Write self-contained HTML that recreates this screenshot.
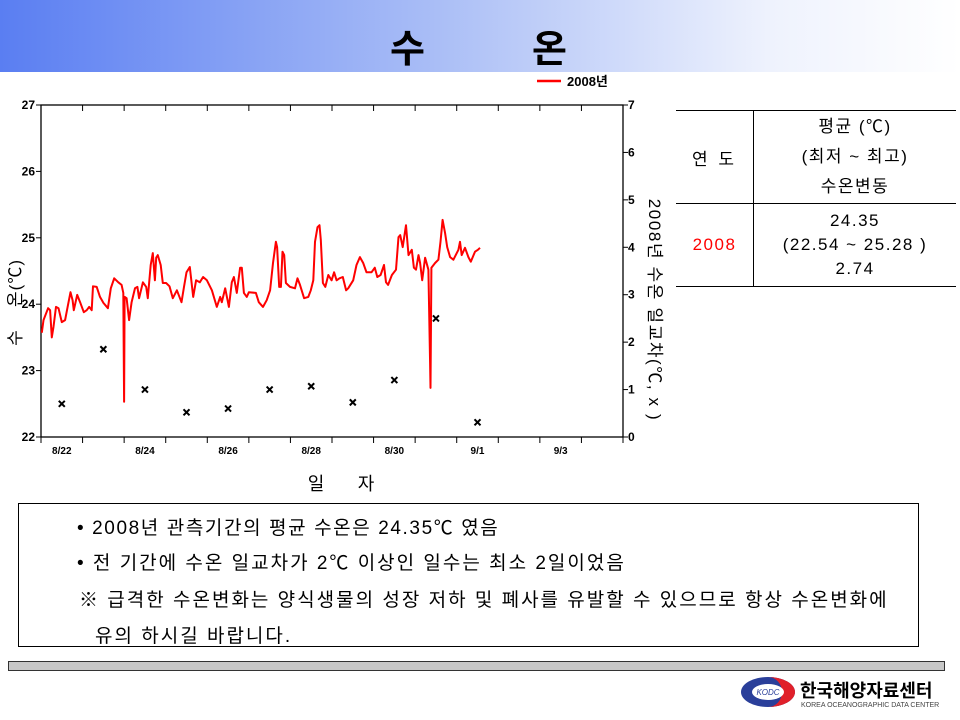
<!DOCTYPE html>
<html><head><meta charset="utf-8"><style>
body{margin:0;width:960px;height:720px;background:#fff;position:relative;overflow:hidden;font-family:"Liberation Sans","Noto Sans CJK KR",sans-serif}
.abs{position:absolute}
</style></head><body>
<div class="abs" style="left:0;top:0;width:960px;height:72px;background:linear-gradient(90deg,#5a7ef2 0%,#a9bdf6 45%,#eef2fd 80%,#fff 100%)"></div>
<div class="abs" style="left:390px;top:18px;font-size:38px;font-weight:bold">수</div>
<div class="abs" style="left:532px;top:18px;font-size:38px;font-weight:bold">온</div>

<svg class="abs" style="left:0;top:0" width="960" height="500">
<g id="chart"></g>
</svg>

<table class="abs" style="left:676px;top:110px;width:280px;border-collapse:collapse;font-size:17px;letter-spacing:1.5px;text-align:center">
<tr style="height:91px;border-top:1px solid #000;border-bottom:1px solid #000"><td style="width:75px;border-right:1px solid #000;letter-spacing:3px">연 도</td><td style="line-height:30px">평균 (℃)<br>(최저 ~ 최고)<br>수온변동</td></tr>
<tr style="height:83px;border-bottom:1px solid #000"><td style="border-right:1px solid #000;color:#f00">2008</td><td style="line-height:24px">24.35<br>(22.54 ~ 25.28 )<br>2.74</td></tr>
</table>

<div class="abs" style="left:18px;top:503px;width:899px;height:142px;border:1px solid #000;font-size:19px;letter-spacing:2px;white-space:nowrap">
<div class="abs" style="left:58px;top:9px;letter-spacing:1.6px">• 2008년 관측기간의 평균 수온은 24.35℃ 였음</div>
<div class="abs" style="left:58px;top:44px">• 전 기간에 수온 일교차가 2℃ 이상인 일수는 최소 2일이었음</div>
<div class="abs" style="left:60px;top:81px">※ 급격한 수온변화는 양식생물의 성장 저하 및 폐사를 유발할 수 있으므로 항상 수온변화에</div>
<div class="abs" style="left:76px;top:117px">유의 하시길 바랍니다.</div>
</div>

<div class="abs" style="left:8px;top:661px;width:935px;height:8px;background:#c8c8c8;border:1px solid #333"></div>
<svg class="abs" style="left:738px;top:674px" width="60" height="40">
<ellipse cx="30" cy="18" rx="27" ry="15" fill="#2a3f9a"/>
<path d="M30 3 A27 15 0 0 1 30 33 A14 15 0 0 0 30 3Z" fill="#e0202a"/>
<ellipse cx="30" cy="18" rx="16" ry="8" fill="#fff"/>
<text x="30" y="21" font-size="8" font-style="italic" text-anchor="middle" fill="#2a3f9a" font-family="Liberation Sans">KODC</text>
</svg>
<div class="abs" style="left:800px;top:677px;font-size:18px;font-weight:bold">한국해양자료센터</div>
<div class="abs" style="left:801px;top:702px;font-size:7px;color:#444">KOREA OCEANOGRAPHIC DATA CENTER</div>

<script>
const days=[0.02,0.06,0.17,0.22,0.26,0.30,0.36,0.42,0.50,0.58,0.65,0.71,0.76,0.79,0.87,0.94,1.03,1.10,1.16,1.22,1.25,1.34,1.42,1.50,1.61,1.68,1.76,1.86,1.94,1.98,2.00,2.01,2.06,2.12,2.18,2.26,2.32,2.36,2.45,2.53,2.57,2.64,2.69,2.74,2.77,2.81,2.88,2.93,3.01,3.09,3.17,3.27,3.38,3.44,3.50,3.58,3.66,3.73,3.82,3.90,3.99,4.11,4.23,4.31,4.35,4.43,4.52,4.59,4.64,4.71,4.79,4.83,4.88,4.95,5.00,5.17,5.24,5.34,5.43,5.51,5.58,5.65,5.68,5.73,5.77,5.81,5.85,5.89,5.99,6.11,6.17,6.23,6.33,6.43,6.49,6.55,6.59,6.65,6.70,6.73,6.78,6.84,6.91,6.99,7.05,7.11,7.18,7.26,7.34,7.39,7.51,7.59,7.67,7.75,7.83,7.95,8.03,8.09,8.17,8.25,8.30,8.35,8.44,8.54,8.60,8.64,8.70,8.78,8.84,8.92,8.97,9.02,9.08,9.12,9.17,9.24,9.32,9.36,9.37,9.39,9.48,9.56,9.61,9.66,9.72,9.77,9.84,9.92,10.04,10.08,10.12,10.20,10.28,10.34,10.44,10.51,10.56];
const temps=[23.57,23.76,23.94,23.91,23.50,23.66,23.96,23.94,23.73,23.76,23.99,24.18,24.06,23.91,24.14,24.03,23.88,23.91,23.96,23.91,24.27,24.26,24.11,24.02,23.94,24.24,24.39,24.33,24.29,24.17,22.53,24.11,24.09,23.76,24.03,24.24,24.26,24.09,24.33,24.26,24.09,24.59,24.77,24.36,24.70,24.74,24.59,24.32,24.32,24.27,24.09,24.21,24.03,24.26,24.48,24.56,24.11,24.36,24.33,24.41,24.36,24.21,23.96,24.11,24.03,24.24,23.96,24.33,24.41,24.17,24.55,24.55,24.17,24.11,24.18,24.17,24.03,23.96,24.06,24.21,24.62,24.94,24.86,24.26,24.26,24.79,24.74,24.32,24.26,24.24,24.39,24.29,24.09,24.11,24.21,24.36,24.94,25.16,25.19,24.97,24.32,24.26,24.44,24.36,24.48,24.36,24.39,24.41,24.21,24.24,24.36,24.59,24.71,24.62,24.48,24.48,24.55,24.41,24.44,24.59,24.33,24.29,24.44,24.52,25.01,25.04,24.86,25.19,24.74,24.82,24.55,24.52,24.74,24.62,24.36,24.70,24.52,23.11,22.74,24.55,24.62,24.67,24.94,25.27,25.07,24.86,24.71,24.67,24.82,24.94,24.74,24.85,24.71,24.64,24.79,24.82,24.85];
const rangeDays=[0,1,2,3,4,5,6,7,8,9,10];
const dailyRange=[0.70,1.85,1.00,0.52,0.60,1.00,1.07,0.73,1.20,2.50,0.31];
const leftTicks=[22,23,24,25,26,27];
const rightTicks=[0,1,2,3,4,5,6,7];
const dateLabels=['8/22','8/24','8/26','8/28','8/30','9/1','9/3'];
const dateLabelDays=[0,2,4,6,8,10,12];

const X0=41,X1=623,Y0=437,Y1=105,NDAYS=14;
const xs=d=>X0+(d/NDAYS)*(X1-X0);
const yT=t=>Y0-(t-22)/5*(Y0-Y1);
const yR=r=>Y0-r/7*(Y0-Y1);
const NS='http://www.w3.org/2000/svg';
const g=document.getElementById('chart');
function mk(tag,attrs,txt){const e=document.createElementNS(NS,tag);for(const k in attrs)e.setAttribute(k,attrs[k]);if(txt!==undefined)e.textContent=txt;g.appendChild(e);return e;}

let e=mk('rect',{x:X0,y:Y1,width:X1-X0,height:Y0-Y1,fill:'none',stroke:'#000','stroke-width':1.3});


for(let i=0;i<=NDAYS;i++){
  const x=xs(i);
  e=mk('line',{x1:x,x2:x,y1:Y0,y2:Y0+6,stroke:'#000'});
  
  
  e=mk('line',{x1:x,x2:x,y1:Y1,y2:Y1+6,stroke:'#000'});
  
  
}
dateLabels.forEach((l,i)=>{
  e=mk('text',{x:xs(dateLabelDays[i]+0.5),y:Y0+17,'font-size':10,'font-weight':'bold','text-anchor':'middle'},l);
  
  
});
leftTicks.forEach(t=>{
  const y=yT(t);
  e=mk('line',{x1:X0-5,x2:X0,y1:y,y2:y,stroke:'#000'});
  
  
  e=mk('text',{x:X0-6,y:y+4,'font-size':12,'font-weight':'bold','text-anchor':'end'},t);
  
  
});
rightTicks.forEach(r=>{
  const y=yR(r);
  e=mk('line',{x1:X1,x2:X1+5,y1:y,y2:y,stroke:'#000'});
  
  
  e=mk('text',{x:X1+5,y:y+4,'font-size':12,'font-weight':'bold'},r);
  
  
});
e=mk('text',{x:0,y:0,'font-size':17,'text-anchor':'middle',transform:'translate(21,338) rotate(-90)'},'수');


e=mk('text',{x:0,y:0,'font-size':17,'text-anchor':'middle','letter-spacing':1,transform:'translate(21,283) rotate(-90)'},'온(℃)');


e=mk('text',{x:0,y:0,'font-size':17,'text-anchor':'middle','letter-spacing':1.6,transform:'translate(649,310) rotate(90)'},'2008년 수온 일교차(℃, x )');


e=mk('text',{x:316,y:490,'font-size':18,'text-anchor':'middle'},'일');


e=mk('text',{x:366,y:490,'font-size':18,'text-anchor':'middle'},'자');



let d='';
days.forEach((v,i)=>{d+=(i?'L':'M')+xs(v).toFixed(1)+' '+yT(temps[i]).toFixed(1);});
e=mk('path',{d:d,fill:'none',stroke:'#f00','stroke-width':2,'stroke-linejoin':'round'});


rangeDays.forEach((v,i)=>{
  const x=xs(v+0.5),y=yR(dailyRange[i]);
  e=mk('path',{d:`M${x-3} ${y-3}L${x+3} ${y+3}M${x+3} ${y-3}L${x-3} ${y+3}`,stroke:'#000','stroke-width':2});
  
  
});
e=mk('line',{x1:537,x2:561,y1:81,y2:81,stroke:'#f00','stroke-width':2.5});


e=mk('text',{x:567,y:86,'font-size':13,'font-weight':'bold'},'2008년');


</script>
</body></html>
